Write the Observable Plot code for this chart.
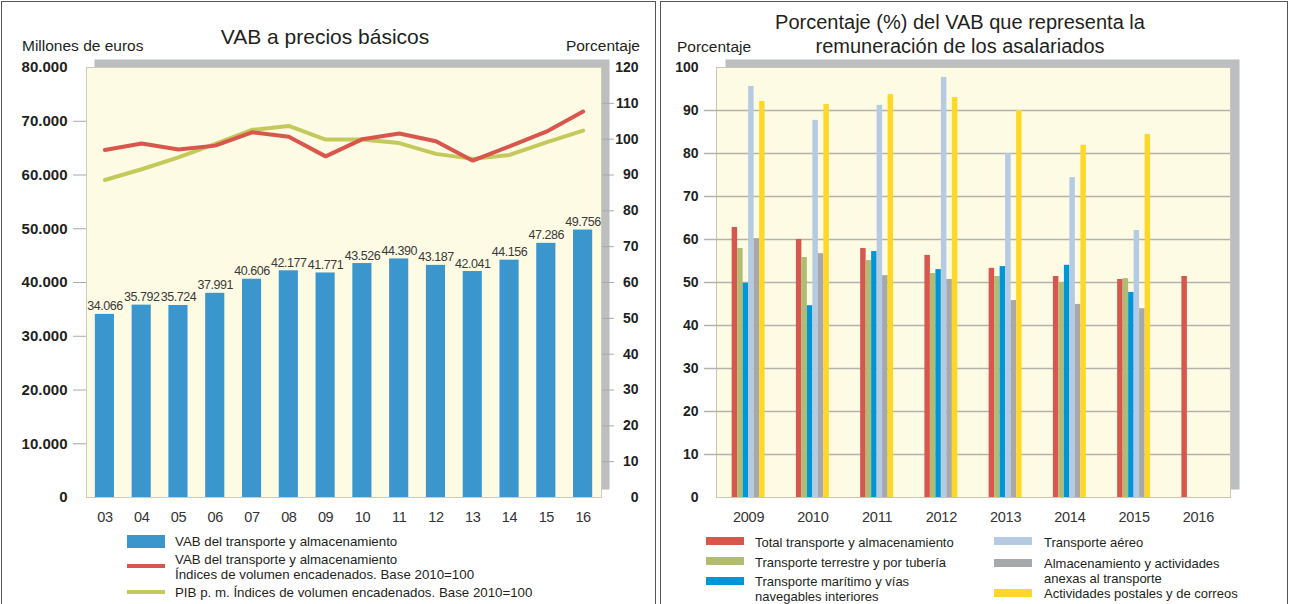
<!DOCTYPE html>
<html><head><meta charset="utf-8">
<script src="https://cdn.jsdelivr.net/npm/d3@7"></script>
<script src="https://cdn.jsdelivr.net/npm/@observablehq/plot@0.6"></script>
<style>
body{margin:0;background:#fff;}
#root{position:relative;width:1289px;height:604px;overflow:hidden;font-family:"Liberation Sans",Arial,sans-serif;color:#231f20;}
#root svg{position:absolute;left:0;top:0;}
.t{position:absolute;white-space:nowrap;transform:translateY(-50%);line-height:15px;}
.box{position:absolute;border:1.5px solid #555;}
.sw{position:absolute;}
svg.leftA g[aria-label="text"] text{letter-spacing:-0.45px;}
svg.leftA g[aria-label="x-axis tick label"] text{letter-spacing:-0.4px;}
svg.rightB g[aria-label="fx-axis tick label"] text{letter-spacing:-0.2px;}
</style></head><body><div id="root"></div>
<script>
// ---------- Left chart data ----------
const years = ["03","04","05","06","07","08","09","10","11","12","13","14","15","16"];
const vab = [34066,35792,35724,37991,40606,42177,41771,43526,44390,43187,42041,44156,47286,49756];
const vabIndex = [97.0,98.8,97.1,98.2,101.9,100.7,95.2,100.0,101.6,99.4,94.0,98.0,102.1,107.7];
const pibIndex = [88.6,91.6,94.9,98.7,102.6,103.7,99.9,99.9,98.9,95.9,94.5,95.6,99.1,102.4];
const leftTicks = [0,10000,20000,30000,40000,50000,60000,70000,80000];
const rightTicks = [0,10,20,30,40,50,60,70,80,90,100,110,120];

// ---------- Right chart data ----------
const years2 = ["2009","2010","2011","2012","2013","2014","2015","2016"];
const seriesNames = ["Total transporte y almacenamiento","Transporte terrestre y por tubería","Transporte marítimo y vías navegables interiores","Transporte aéreo","Almacenamiento y actividades anexas al transporte","Actividades postales y de correos"];
const seriesColors = ["#d6574e","#b1bb72","#0096d6","#b4cbe3","#a7a8ab","#fdd82b"];
const total     = [62.8,60.0,57.9,56.3,53.3,51.4,50.7,51.4];
const terrestre = [57.9,55.8,55.1,52.1,51.4,50.0,50.9,null];
const maritimo  = [49.8,44.6,57.2,53.0,53.7,54.0,47.7,null];
const aereo     = [95.6,87.7,91.2,97.7,80.0,74.4,62.1,null];
const almacen   = [60.2,56.7,51.6,50.7,45.8,44.9,43.9,null];
const postales  = [92.1,91.4,93.7,93.0,90.0,81.9,84.4,null];
const pctTicks = [0,10,20,30,40,50,60,70,80,90,100];

const sans = '"Liberation Sans",Arial,sans-serif';
const fmt = d3.formatLocale({decimal:",",thousands:".",grouping:[3],currency:["","€"]}).format(",d");

const root = document.getElementById("root");
const trans = {background:"transparent", fontFamily:sans, overflow:"visible"};

// ---------- Left chart ----------
const leftData = years.map((y,i)=>({year:y, vab:vab[i], vabIdx:vabIndex[i], pib:pibIndex[i]}));
const leftDims = {width:1289, height:530, marginLeft:86, marginRight:688, marginTop:67, marginBottom:33};
const leftX = {domain:years, paddingInner:0.48, paddingOuter:0.24, round:false};

root.append(Plot.plot({
  ...leftDims, style:trans, className:"leftA",
  x:{...leftX, label:null},
  y:{domain:[0,80000], label:null},
  marks:[
    Plot.frame({fill:"#bcbec0", dx:8, dy:-8}),
    Plot.frame({fill:"#fefbe4", stroke:"#cfcbb6"}),
    Plot.barY(leftData,{x:"year", y:"vab", fill:"#3a96cc"}),
    Plot.text(leftData,{x:"year", y:"vab", text:d=>fmt(d.vab), dy:-4, lineAnchor:"bottom", fontSize:12.5, fill:"#3a3a3a"}),
    Plot.axisY({ticks:leftTicks, tickSize:0, tickPadding:19, tickFormat:fmt, fontSize:15, fontWeight:"bold", fill:"#231f20", label:null}),
    Plot.axisY({ticks:leftTicks.slice(1,-1), tickSize:13, tickFormat:()=>"", stroke:"#a9a9a9", label:null}),
    Plot.axisX({tickSize:0, tickPadding:14, fontSize:14.5, fill:"#333", label:null})
  ]
}));

root.append(Plot.plot({
  ...leftDims, style:trans,
  x:{...leftX, axis:null},
  y:{domain:[0,120], label:null},
  marks:[
    Plot.lineY(leftData,{x:"year", y:"pib", stroke:"#c3c95b", strokeWidth:4, strokeLinejoin:"miter"}),
    Plot.lineY(leftData,{x:"year", y:"vabIdx", stroke:"#d9564c", strokeWidth:4, strokeLinejoin:"miter"}),
    Plot.axisY({anchor:"right", ticks:rightTicks, tickSize:0, tickPadding:37, textAnchor:"end", fontSize:14, fontWeight:"bold", fill:"#231f20", label:null}),
    Plot.axisY({anchor:"right", ticks:rightTicks.slice(1,-1), tickSize:12, tickFormat:()=>"", stroke:"#a9a9a9", label:null})
  ]
}));

// ---------- Right chart ----------
const rightDims = {width:1289, height:530, marginLeft:716, marginRight:59, marginTop:67, marginBottom:33};
const seriesValues = [total, terrestre, maritimo, aereo, almacen, postales];
const rightData = years2.flatMap((yr,i)=>seriesNames.map((s,j)=>({year:yr, serie:s, value:seriesValues[j][i]}))).filter(d=>d.value!=null);

root.append(Plot.plot({
  ...rightDims, style:trans,
  y:{domain:[0,100], label:null},
  marks:[
    Plot.frame({fill:"#bcbec0", dx:9, dy:-8}),
    Plot.frame({fill:"#fefbe4", stroke:"#c9c6b2"}),
    Plot.gridY({ticks:pctTicks.slice(1,-1), stroke:"#b3b3ad", strokeOpacity:1, strokeWidth:1.5}),
    Plot.axisY({ticks:pctTicks, tickSize:0, tickPadding:18, fontSize:14, fontWeight:"bold", fill:"#231f20", label:null}),
    Plot.axisY({ticks:pctTicks.slice(1,-1), tickSize:12, tickFormat:()=>"", stroke:"#b3b3ad", strokeWidth:1.5, label:null})
  ]
}));

root.append(Plot.plot({
  ...rightDims, style:trans, className:"rightB",
  fx:{domain:years2, padding:0, label:null, round:false},
  x:{domain:seriesNames, paddingInner:0, paddingOuter:2.85, axis:null, round:false},
  y:{domain:[0,100], axis:null},
  color:{domain:seriesNames, range:seriesColors},
  marks:[
    Plot.barY(rightData,{fx:"year", x:"serie", y:"value", fill:"serie"}),
    Plot.axisFx({anchor:"bottom", tickSize:0, tickPadding:14, fontSize:14.5, fill:"#333", label:null})
  ]
}));

// ---------- HTML text: boxes, titles, legends ----------
function box(l,t,w,h){const d=document.createElement("div");d.className="box";Object.assign(d.style,{left:l+"px",top:t+"px",width:w+"px",height:h+"px"});root.append(d);}
function txt(s,l,cy,size,opts={}){const d=document.createElement("div");d.className="t";d.innerHTML=s;Object.assign(d.style,{left:l+"px",top:cy+"px",fontSize:size+"px"},opts);root.append(d);return d;}
function sw(l,t,w,h,c){const d=document.createElement("div");d.className="sw";Object.assign(d.style,{left:l+"px",top:t+"px",width:w+"px",height:h+"px",background:c});root.append(d);}

box(1,1,653,640);
box(660,1,626,640);

txt("VAB a precios básicos",325,36,21,{transform:"translate(-50%,-50%)"});
txt("Millones de euros",22,45,15.5);
txt("Porcentaje",640,45,15.5,{transform:"translate(-100%,-50%)"});
txt("Porcentaje (%) del VAB que representa la<br>remuneración de los asalariados",960,34,20,{transform:"translate(-50%,-50%)",textAlign:"center",lineHeight:"24px"});
txt("Porcentaje",677,46,15.5);

// left legend
sw(127,535,38,12.5,"#3a96cc");
txt("VAB del transporte y almacenamiento",175,541,13.3);
sw(127,564,38,4,"#d9564c");
txt("VAB del transporte y almacenamiento<br>Índices de volumen encadenados. Base 2010=100",175,567,13.3);
sw(127,590,38,4,"#c3c95b");
txt("PIB p. m. Índices de volumen encadenados. Base 2010=100",175,592,13.3);

// right legend
const col1 = [[0,537,541.5],[1,557,561.5],[2,577,589]];
const col2 = [[3,537,541.5],[4,559,571],[5,589,593]];
const labelsHtml = ["Total transporte y almacenamiento","Transporte terrestre y por tubería","Transporte marítimo y vías<br>navegables interiores","Transporte aéreo","Almacenamiento y actividades<br>anexas al transporte","Actividades postales y de correos"];
col1.forEach(([i,t,c])=>{sw(706,t,38,8,seriesColors[i]);txt(labelsHtml[i],755,c,13);});
col2.forEach(([i,t,c])=>{sw(994,t,38,8,seriesColors[i]);txt(labelsHtml[i],1044,c,13);});
</script></body></html>
